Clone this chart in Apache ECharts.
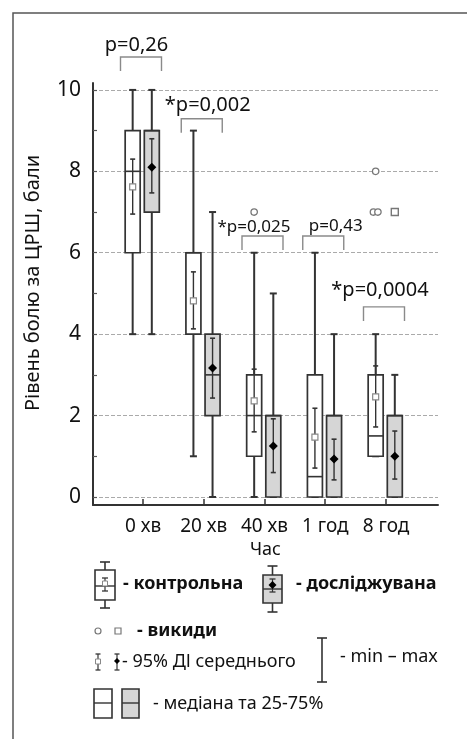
<!DOCTYPE html>
<html><head><meta charset="utf-8">
<script src="https://cdn.jsdelivr.net/npm/echarts@6/dist/echarts.min.js"></script>
<style>html,body{margin:0;padding:0;background:#fff}#c{width:467px;height:739px}</style>
</head><body><div id="c"></div>
<script>
// ---- data ----
const categories = ['0 хв', '20 хв', '40 хв', '1 год', '8 год'];
const yTicks = [0, 2, 4, 6, 8, 10];

const ctrlMin  = [4, 1, 0, 0, 1];
const ctrlQ1   = [6, 4, 1, 0, 1];
const ctrlMed  = [8, 6, 2, 0.5, 1.5];
const ctrlQ3   = [9, 6, 3, 3, 3];
const ctrlMax  = [10, 9, 6, 6, 4];
const ctrlMean = [7.62, 4.82, 2.36, 1.47, 2.46];
const ctrlCiLo = [6.95, 4.13, 1.6, 0.71, 1.72];
const ctrlCiHi = [8.3, 5.53, 3.14, 2.18, 3.22];

const studyMin  = [4, 0, 0, 0, 0];
const studyQ1   = [7, 2, 0, 0, 0];
const studyMed  = [9, 3, 2, 2, 2];
const studyQ3   = [9, 4, 2, 2, 2];
const studyMax  = [10, 7, 5, 4, 3];
const studyMean = [8.1, 3.17, 1.25, 0.93, 1.0];
const studyCiLo = [7.47, 2.43, 0.6, 0.42, 0.44];
const studyCiHi = [8.8, 3.9, 1.92, 1.42, 1.62];

const ctrlOutlierCat = [2, 4, 4, 4];
const ctrlOutlierVal = [7, 8, 7, 7];
const studyOutlierCat = [4];
const studyOutlierVal = [7];

const pLabels = ['p=0,26', '*p=0,002', '*p=0,025', 'p=0,43', '*p=0,0004'];
const pBracketTop = [10.81, 9.29, 6.41, 6.41, 4.67];

// ---- layout / style ----
const FONT = 'Noto Sans';
const CTRL_OFF = -0.17, STUDY_OFF = 0.145;
const BOX_W = 15;
const pTextDx = [-4.5, 6, -8.5, 12.5, -4];
const pTextDy = [12, 14, 9, 10, 17];
const pFont = [20, 20, 17, 17, 20];

function boxRender(isStudy) {
  return function (params, api) {
    const off = isStudy ? STUDY_OFF : CTRL_OFF;
    const x = api.value(0) + off;
    const c = v => api.coord([x, v]);
    const pMin = c(api.value(1)), pQ1 = c(api.value(2)), pMed = c(api.value(3)),
          pQ3 = c(api.value(4)), pMax = c(api.value(5)), pMean = c(api.value(6)),
          pLo = c(api.value(7)), pHi = c(api.value(8));
    const cx = pMin[0], hw = BOX_W / 2;
    const ln = (x1, y1, x2, y2, w, col) => ({ type: 'line', shape: { x1, y1, x2, y2 }, style: { stroke: col || '#333', lineWidth: w } });
    const ch = [
      ln(cx, pQ3[1], cx, pMax[1], 2),
      ln(cx - 3.5, pMax[1], cx + 3.5, pMax[1], 2),
      ln(cx, pQ1[1], cx, pMin[1], 2),
      ln(cx - 3.5, pMin[1], cx + 3.5, pMin[1], 2),
      { type: 'rect', shape: { x: cx - hw, y: pQ3[1], width: BOX_W, height: pQ1[1] - pQ3[1] },
        style: { fill: isStudy ? '#d6d6d6' : '#fff', stroke: '#333', lineWidth: 1.7 } },
      ln(cx - hw, pMed[1], cx + hw, pMed[1], 1.6),
      ln(cx, pHi[1], cx, pLo[1], 1.4),
      ln(cx - 2.5, pHi[1], cx + 2.5, pHi[1], 1.6),
      ln(cx - 2.5, pLo[1], cx + 2.5, pLo[1], 1.6)
    ];
    if (isStudy) {
      const m = pMean, r = 4.5;
      ch.push({ type: 'polygon', shape: { points: [[m[0], m[1] - r], [m[0] + r, m[1]], [m[0], m[1] + r], [m[0] - r, m[1]]] }, style: { fill: '#000' } });
    } else {
      ch.push({ type: 'rect', shape: { x: pMean[0] - 3, y: pMean[1] - 3, width: 6, height: 6 }, style: { fill: '#fff', stroke: '#888', lineWidth: 1.2 } });
    }
    return { type: 'group', children: ch };
  };
}

function outlierData(cats, vals) {
  const counts = {}, seen = {};
  cats.forEach((c, i) => { const k = c + '_' + vals[i]; counts[k] = (counts[k] || 0) + 1; });
  return cats.map((c, i) => {
    const k = c + '_' + vals[i]; const n = counts[k]; const j = seen[k] || 0; seen[k] = j + 1;
    return [c, vals[i], (j - (n - 1) / 2) * 4.5];
  });
}

function outlierRender(isStudy) {
  return function (params, api) {
    const off = isStudy ? STUDY_OFF : CTRL_OFF;
    const p = api.coord([api.value(0) + off, api.value(1)]);
    const x = p[0] + api.value(2);
    if (isStudy) {
      return { type: 'rect', shape: { x: x - 3.5, y: p[1] - 3.5, width: 7, height: 7 }, style: { fill: '#fff', stroke: '#777', lineWidth: 1.4 } };
    }
    return { type: 'circle', shape: { cx: x, cy: p[1], r: 3.2 }, style: { fill: '#fff', stroke: '#777', lineWidth: 1.3 } };
  };
}

function annotRender(params, api) {
  const i = api.value(0);
  const p = api.coord([i, api.value(1)]);
  const cx = p[0] - 2, top = p[1], hw = 20.5, leg = 14;
  const col = '#8a8a8a';
  return { type: 'group', children: [
    { type: 'polyline', shape: { points: [[cx - hw, top + leg], [cx - hw, top], [cx + hw, top], [cx + hw, top + leg]] }, style: { stroke: col, lineWidth: 1.4, fill: null } },
    { type: 'text', x: cx + pTextDx[i], y: top - pTextDy[i], style: { text: pLabels[i], font: pFont[i] + 'px "' + FONT + '"', fill: '#111', align: 'center', verticalAlign: 'middle' } }
  ] };
}

const chart = echarts.init(document.getElementById('c'), null, { renderer: 'canvas' });

const legendFontB = 'bold 18px "' + FONT + '"';
const legendFont = '18px "' + FONT + '"';
function gline(x1, y1, x2, y2, w) { return { type: 'line', shape: { x1, y1, x2, y2 }, style: { stroke: '#333', lineWidth: w || 1.6 } }; }
function gtext(x, y, t, font) { return { type: 'text', x, y, style: { text: t, font, fill: '#111', verticalAlign: 'middle' } }; }

const legend = [
  // frame
  { type: 'rect', shape: { x: 13, y: 13, width: 470, height: 740 }, style: { fill: null, stroke: '#555', lineWidth: 1.5 } },
  // control icon
  gline(105, 562, 105, 608), gline(100, 562, 110, 562), gline(100, 608, 110, 608),
  { type: 'rect', shape: { x: 95, y: 570, width: 20, height: 30 }, style: { fill: '#fff', stroke: '#333', lineWidth: 1.6 } },
  gline(95, 586, 115, 586, 1.4), gline(105, 578, 105, 591, 1.2), gline(102, 578, 108, 578, 1.3), gline(102, 591, 108, 591, 1.3),
  { type: 'rect', shape: { x: 102.5, y: 581, width: 5, height: 5 }, style: { fill: '#fff', stroke: '#888', lineWidth: 1 } },
  gtext(123, 584, '- контрольна', legendFontB),
  // study icon
  gline(272.5, 566, 272.5, 612), gline(267.5, 566, 277.5, 566), gline(267.5, 612, 277.5, 612),
  { type: 'rect', shape: { x: 263, y: 575, width: 19, height: 28 }, style: { fill: '#d6d6d6', stroke: '#333', lineWidth: 1.6 } },
  gline(263, 589, 282, 589, 1.4), gline(272.5, 579, 272.5, 592, 1.2), gline(269.5, 579, 275.5, 579, 1.3), gline(269.5, 592, 275.5, 592, 1.3),
  { type: 'polygon', shape: { points: [[272.5, 581], [276.5, 585], [272.5, 589], [268.5, 585]] }, style: { fill: '#000' } },
  gtext(296, 584, '- досліджувана', legendFontB),
  // outliers
  { type: 'circle', shape: { cx: 98, cy: 631, r: 3 }, style: { fill: '#fff', stroke: '#777', lineWidth: 1.2 } },
  { type: 'rect', shape: { x: 115, y: 628, width: 6, height: 6 }, style: { fill: '#fff', stroke: '#777', lineWidth: 1.2 } },
  gtext(137, 631, '- викиди', legendFontB),
  // CI icons
  gline(98, 654, 98, 670, 1.2), gline(95.5, 654, 100.5, 654, 1.3), gline(95.5, 670, 100.5, 670, 1.3),
  { type: 'rect', shape: { x: 95.5, y: 659, width: 5, height: 5 }, style: { fill: '#fff', stroke: '#888', lineWidth: 1 } },
  gline(117, 654, 117, 670, 1.2), gline(114.5, 654, 119.5, 654, 1.3), gline(114.5, 670, 119.5, 670, 1.3),
  { type: 'polygon', shape: { points: [[117, 658], [120, 661], [117, 664], [114, 661]] }, style: { fill: '#000' } },
  gtext(122, 662, '- 95% ДІ середнього', legendFont),
  // min-max icon
  gline(322, 638, 322, 682, 1.6), gline(317, 638, 327, 638, 1.6), gline(317, 682, 327, 682, 1.6),
  gtext(340, 657, '- min – max', legendFont),
  // median boxes
  { type: 'rect', shape: { x: 94, y: 689, width: 18, height: 29 }, style: { fill: '#fff', stroke: '#333', lineWidth: 1.6 } },
  gline(94, 703, 112, 703, 1.4),
  { type: 'rect', shape: { x: 122, y: 689, width: 17, height: 29 }, style: { fill: '#d6d6d6', stroke: '#333', lineWidth: 1.6 } },
  gline(122, 703, 139, 703, 1.4),
  gtext(153, 704, '- медіана та 25-75%', legendFont)
];

const option = {
  animation: false,
  backgroundColor: '#fff',
  textStyle: { fontFamily: FONT },
  grid: { left: 93, right: 29, top: 83, bottom: 234 },
  xAxis: {
    type: 'value', min: -0.823, max: 4.856,
    axisLine: { show: true, onZero: false, lineStyle: { color: '#333', width: 2 } },
    axisTick: { show: true, inside: true, length: 6, customValues: [0, 1, 2, 3, 4], lineStyle: { color: '#333', width: 1.5 } },
    axisLabel: { customValues: [0, 1, 2, 3, 4], formatter: v => categories[Math.round(v)], fontSize: 19, color: '#111', margin: 12, fontFamily: FONT },
    splitLine: { show: false },
    name: 'Час', nameLocation: 'middle', nameGap: 29,
    nameTextStyle: { fontSize: 18, color: '#111', fontFamily: FONT }
  },
  yAxis: [{
    type: 'value', min: -0.197, max: 10.17,
    axisLine: { show: true, onZero: false, lineStyle: { color: '#333', width: 2 } },
    axisTick: { show: true, inside: true, length: 4, customValues: [0,1,2,3,4,5,6,7,8,9,10], lineStyle: { color: '#555', width: 1.2 } },
    axisLabel: { customValues: yTicks, fontSize: 21, color: '#111', margin: 12, fontFamily: FONT },
    splitLine: { show: false },
    name: 'Рівень болю за ЦРШ, бали', nameLocation: 'middle', nameGap: 50, nameRotate: 90,
    nameTextStyle: { fontSize: 20, color: '#111', fontFamily: FONT, padding: [0, 0, 0, 22] }
  }, {
    type: 'value', min: -0.197, max: 10.17, position: 'left',
    axisLine: { show: false, onZero: false }, axisLabel: { show: false },
    axisTick: { show: false, customValues: yTicks },
    splitLine: { show: true, lineStyle: { color: '#aaa', width: 1, type: [4, 2] } }
  }],
  series: [
    { type: 'custom', name: 'контрольна', renderItem: boxRender(false), clip: false,
      data: categories.map((c, i) => [i, ctrlMin[i], ctrlQ1[i], ctrlMed[i], ctrlQ3[i], ctrlMax[i], ctrlMean[i], ctrlCiLo[i], ctrlCiHi[i]]) },
    { type: 'custom', name: 'досліджувана', renderItem: boxRender(true), clip: false,
      data: categories.map((c, i) => [i, studyMin[i], studyQ1[i], studyMed[i], studyQ3[i], studyMax[i], studyMean[i], studyCiLo[i], studyCiHi[i]]) },
    { type: 'custom', renderItem: outlierRender(false), clip: false, data: outlierData(ctrlOutlierCat, ctrlOutlierVal) },
    { type: 'custom', renderItem: outlierRender(true), clip: false, data: outlierData(studyOutlierCat, studyOutlierVal) },
    { type: 'custom', renderItem: annotRender, clip: false, data: pLabels.map((t, i) => [i, pBracketTop[i]]) }
  ],
  graphic: legend
};
chart.setOption(option);
</script>
</body></html>
